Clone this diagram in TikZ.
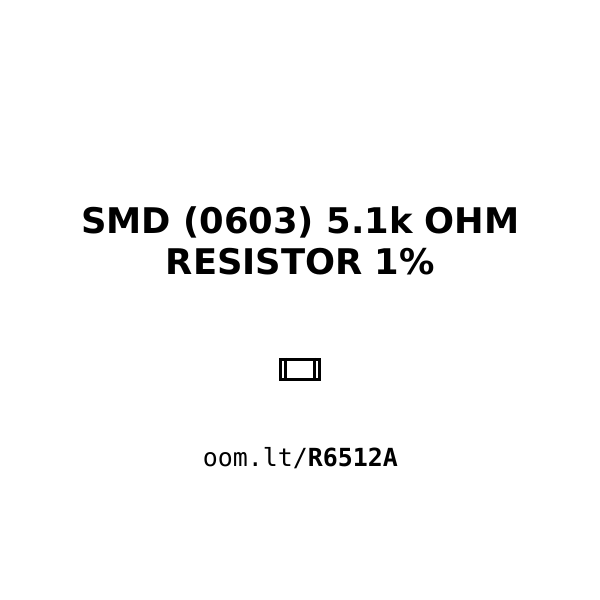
\documentclass[tikz,border=0pt]{standalone}
\usepackage{fontspec}
\setmainfont{DejaVu Sans}
\setmonofont{DejaVu Sans Mono}
\tikzset{px/.style={x=0.75pt,y=-0.75pt},
 titletext/.style={font=\fontsize{26.5pt}{30.75pt}\selectfont\bfseries,align=center,inner sep=0pt},
 urltext/.style={font=\fontsize{18.7pt}{22pt}\selectfont\ttfamily,inner sep=0pt},
 part/.style={draw=black,line width=2.25pt,fill=none}}
\begin{document}
\begin{tikzpicture}[px]
\useasboundingbox (0,0) rectangle (600,600);
\node[titletext] (title) at (300.4,240.8) {SMD (0603) 5.1k OHM\\RESISTOR 1\%};
\node[part,minimum width=29.6pt,minimum height=15pt,inner sep=0pt] (body) at (299.9,369.3) {};
\draw[part] ([xshift=5pt]body.north west) -- ([xshift=5pt]body.south west);
\draw[part] ([xshift=-5pt]body.north east) -- ([xshift=-5pt]body.south east);
\node[urltext] (url) at (300.4,458) {oom.lt/\textbf{R6512A}};
\end{tikzpicture}
\end{document}
